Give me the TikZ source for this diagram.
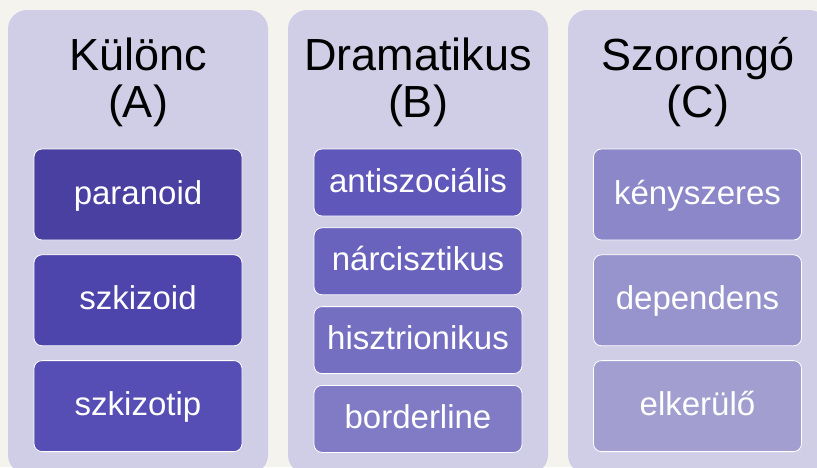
\documentclass[tikz,border=0pt]{standalone}
\usepackage{fontspec}
\setmainfont{Liberation Sans}
\usetikzlibrary{positioning}

\definecolor{paper}{RGB}{244,243,238}
\definecolor{groupbg}{RGB}{208,206,230}
\definecolor{tA1}{RGB}{73,64,162}
\definecolor{tA2}{RGB}{77,68,172}
\definecolor{tA3}{RGB}{86,78,180}
\definecolor{tB1}{RGB}{95,87,185}
\definecolor{tB2}{RGB}{106,99,189}
\definecolor{tB3}{RGB}{117,111,194}
\definecolor{tB4}{RGB}{129,123,198}
\definecolor{tC1}{RGB}{140,135,201}
\definecolor{tC2}{RGB}{151,147,204}
\definecolor{tC3}{RGB}{162,159,208}

\tikzset{
  group/.style={fill=groupbg, rounded corners=19pt},
  grouptitle/.style={align=center, anchor=base, font=\fontsize{45}{47}\selectfont},
  item/.style={draw=white, line width=0.8pt, rounded corners=8pt, inner sep=0pt,
    minimum width=208pt, text=white, text height=25pt, text depth=6pt,
    font=\fontsize{33}{33}\selectfont},
  tallitem/.style={item, minimum height=91pt},
  shortitem/.style={item, minimum height=67pt}
}

\begin{document}
\begin{tikzpicture}[x=1pt, y=-1pt]
  \useasboundingbox (0,0) rectangle (817,467);
  \fill[paper] (0,0) rectangle (817,467);
  \clip (0,0) rectangle (817,467);

  % groups
  \fill[group] (8,10) rectangle (268,474);
  \fill[group] (288,10) rectangle (548,474);
  \fill[group] (568,10) rectangle (828,474);

  \node[grouptitle] (tA) at (138,117) {Különc\\(A)};
  \node[grouptitle] (tB) at (418,117) {Dramatikus\\(B)};
  \node[grouptitle] (tC) at (698,117) {Szorongó\\(C)};

  % cluster A
  \node[tallitem, fill=tA1] (paranoid) at (138,194.5) {paranoid};
  \node[tallitem, fill=tA2, below=14pt of paranoid] (szkizoid) {szkizoid};
  \node[tallitem, fill=tA3, below=14pt of szkizoid] (szkizotip) {szkizotip};

  % cluster B
  \node[shortitem, fill=tB1] (antisz) at (418,182.5) {antiszociális};
  \node[shortitem, fill=tB2, below=11pt of antisz] (narc) {nárcisztikus};
  \node[shortitem, fill=tB3, below=11pt of narc] (hiszt) {hisztrionikus};
  \node[shortitem, fill=tB4, below=11pt of hiszt] (border) {borderline};

  % cluster C
  \node[tallitem, fill=tC1] (kenysz) at (697.5,194.5) {kényszeres};
  \node[tallitem, fill=tC2, below=14pt of kenysz] (depend) {dependens};
  \node[tallitem, fill=tC3, below=14pt of depend] (elker) {elkerülő};
\end{tikzpicture}
\end{document}
